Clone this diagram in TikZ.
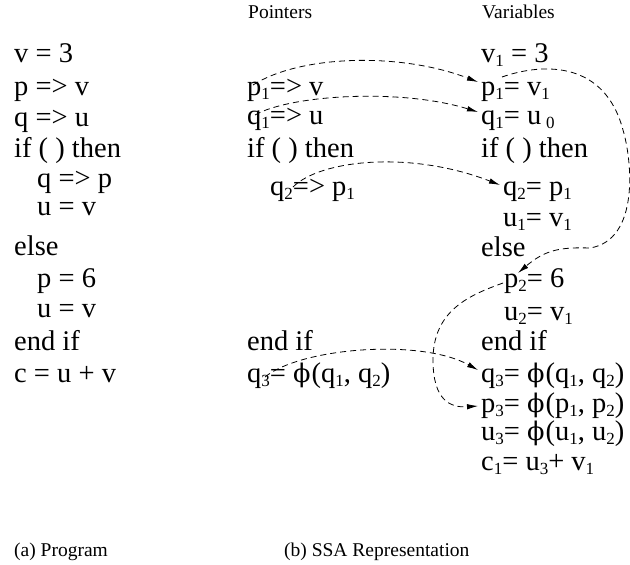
\documentclass[tikz,border=0pt]{standalone}
\usepackage{fontspec}
\setmainfont{Liberation Serif}
\newfontfamily\phifont[Scale=0.9]{DejaVu Serif}
\usetikzlibrary{arrows.meta,calc}
\newcommand\ssub[1]{\raisebox{-4pt}[8pt][0pt]{\fontsize{17}{17}\selectfont #1}}
\newcommand\ph{{\phifont ϕ}\kern1pt}
\begin{document}
\begin{tikzpicture}[x=1pt,y=-1pt,
  code/.style={anchor=base west,inner sep=0pt,font=\fontsize{28.5}{30}\selectfont},
  lbl/.style={anchor=base west,inner sep=0pt,font=\fontsize{19.5}{21}\selectfont},
  flow/.style={draw,dash pattern=on 6pt off 4pt,line width=0.8pt,-{Latex[length=11pt,width=5.5pt]}}]
\useasboundingbox (0,0) rectangle (630,565);
% headers
\node[lbl] (hp) at (248,18) {Pointers};
\node[lbl] (hv) at (482,18) {Variables};
% left program
\node[code] (L1) at (14,62) {v = 3};
\node[code] (L2) at (14,95) {p => v};
\node[code] (L3) at (14,126) {q => u};
\node[code] (L4) at (14,157) {if ( ) then};
\node[code] (L5) at (37,187) {q => p};
\node[code] (L6) at (37,215) {u = v};
\node[code] (L7) at (14,255) {else};
\node[code] (L8) at (37,287) {p = 6};
\node[code] (L9) at (37,317) {u = v};
\node[code] (L10) at (14,350) {end if};
\node[code] (L11) at (14,382) {c = u + v};
% pointers
\node[code] (P1) at (247,95) {p\ssub{1}=> v};
\node[code] (P2) at (247,124) {q\ssub{1}=> u};
\node[code] (P3) at (247,157) {if ( ) then};
\node[code] (P4) at (270,195) {q\ssub{2}=> p\ssub{1}};
\node[code] (P5) at (247,350) {end if};
\node[code] (P6) at (247,382) {q\ssub{3}= \ph(q\ssub{1}, q\ssub{2})};
% variables
\node[code] (V1) at (481,62) {v\ssub{1} = 3};
\node[code] (V2) at (481,95) {p\ssub{1}= v\ssub{1}};
\node[code] (V3) at (481,124) {q\ssub{1}= u\,\ssub{0}};
\node[code] (V4) at (481,157) {if ( ) then};
\node[code] (V5) at (503,195) {q\ssub{2}= p\ssub{1}};
\node[code] (V6) at (503,226) {u\ssub{1}= v\ssub{1}};
\node[code] (V7) at (481,256) {else};
\node[code] (V8) at (504,287) {p\ssub{2}= 6};
\node[code] (V9) at (504,320) {u\ssub{2}= v\ssub{1}};
\node[code] (V10) at (481,350) {end if};
\node[code] (V11) at (481,382) {q\ssub{3}= \ph(q\ssub{1}, q\ssub{2})};
\node[code] (V12) at (481,412) {p\ssub{3}= \ph(p\ssub{1}, p\ssub{2})};
\node[code] (V13) at (481,440) {u\ssub{3}= \ph(u\ssub{1}, u\ssub{2})};
\node[code] (V14) at (481,470) {c\ssub{1}= u\ssub{3}+ v\ssub{1}};
% captions
\node[lbl] (ca) at (14,556) {(a) Program};
\node[lbl] (cb) at (284,556) {(b) SSA Representation};
% connectors
\draw[flow] ($(P1.base west)+(6,-10)$) .. controls (300,55) and (400,52) .. ($(V2.base west)+(-3,-13)$);
\draw[flow] ($(P2.base west)+(8,-9)$) .. controls (290,95) and (400,88) .. ($(V3.base west)+(-3,-12)$);
\draw[flow] ($(P4.base west)+(23,-8)$) .. controls (320,160) and (410,150) .. ($(V5.base west)+(-3,-10)$);
\draw[flow] ($(V2.base west)+(21,-18)$) .. controls (545,62) and (605,62) .. (623,130)
  .. controls (632,160) and (640,240) .. (590,248)
  .. controls (560,247) and (545,250) .. ($(V8.base west)+(14,-14)$);
\draw[flow] ($(V8.base west)+(-1,-4)$) .. controls (470,295) and (433,310) .. (433,360)
  .. controls (433,400) and (450,408) .. ($(V12.base west)+(-3,-6)$);
\draw[flow] ($(P6.base west)+(18,-5)$) .. controls (300,348) and (420,338) .. ($(V11.base west)+(-3,-12)$);
\end{tikzpicture}
\end{document}
